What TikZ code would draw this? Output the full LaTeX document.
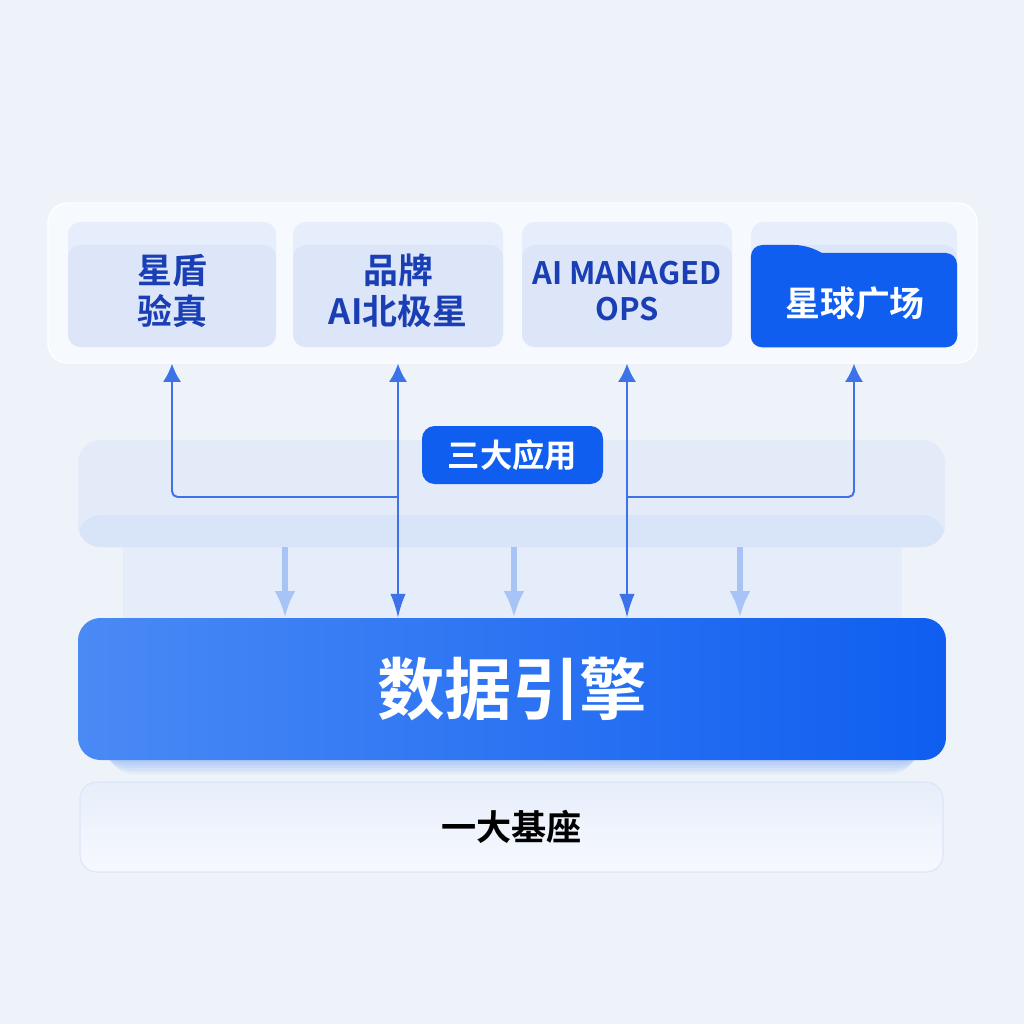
\documentclass[tikz,border=0pt]{standalone}
\usepackage{fontspec}
\setmainfont{Noto Sans CJK SC}[BoldFont={Noto Sans CJK SC Bold}]
\usepackage{xcolor}
\usetikzlibrary{arrows.meta,calc}

\definecolor{bgcol}{HTML}{EEF3FA}
\definecolor{panelcol}{HTML}{F6F9FE}
\definecolor{cardhi}{HTML}{E7EEFB}
\definecolor{cardlo}{HTML}{DCE6F8}
\definecolor{bandhi}{HTML}{E3EBF9}
\definecolor{bandlo}{HTML}{D8E4F8}
\definecolor{colcol}{HTML}{E5EDFA}
\definecolor{inkblue}{HTML}{1A3FB5}
\definecolor{linkcol}{HTML}{3D72E8}
\definecolor{faintcol}{HTML}{A8C3F5}
\definecolor{brightblue}{HTML}{0F5EF0}
\definecolor{engineleft}{HTML}{4A8AF5}
\def\u{0.025cm}

\tikzset{
  UpTip/.tip={Latex[length=13pt,width=13pt]},
  DnTip/.tip={Latex[length=17pt,width=11pt]},
  FaintTip/.tip={Latex[length=19pt,width=15pt]},
}

\begin{document}
\begin{tikzpicture}[x=0.025cm, y=-0.025cm, line join=round,
  card/.style={rounded corners=9pt, inner sep=0pt, fill=cardhi,
    minimum height={125*\u},
    path picture={\fill[cardlo] ([yshift={-23*\u}]path picture bounding box.north west)
      rectangle (path picture bounding box.south east);}},
  cardtext/.style={align=center, text=inkblue, inner sep=0pt,
    font=\fontsize{24.8}{29.5}\selectfont\bfseries},
  link/.style={draw=linkcol, line width=1.4pt},
  faint/.style={draw=faintcol, line width=4.2pt, -FaintTip},
]
% background
\fill[bgcol] (0,0) rectangle (1024,1024);
\useasboundingbox (0,0) rectangle (1024,1024);

% column behind the arrows
\fill[colcol] (123,540) rectangle (902,625);

% top panel with the four cards
\node[fill=panelcol, draw=white, line width=1pt, rounded corners=14pt,
  minimum width={929*\u}, minimum height={160*\u}] (panel) at (512.5,283) {};
\node[card, minimum width={208*\u}] (c1) at (172,284.5) {};
\node[card, minimum width={210*\u}] (c2) at (398,284.5) {};
\node[card, minimum width={210*\u}] (c3) at (627,284.5) {};
\node[card, minimum width={206*\u}] (c4) at (854,284.5) {};
% folder tab on the fourth card
\fill[brightblue, rounded corners=8pt] (c4.south west) -- (751,245) -- (806,245)
  [sharp corners] -- (822,253) [rounded corners=8pt] -- (957,253) -- (c4.south east) -- cycle;

\node[cardtext] (t1) at ([yshift=-4.5pt]c1.center) {星盾\\验真};
\node[cardtext] (t2) at ([yshift=-4.5pt]c2.center) {品牌\\AI北极星};
\node[cardtext, font=\fontsize{22}{25.5}\selectfont\bfseries]
  (t3) at ([yshift=-4.5pt]c3.center) {AI MANAGED\\OPS};
\node[cardtext, text=white] (t4) at (855,303) {星球广场};

% middle band
\node[fill=bandhi, rounded corners=16pt, minimum width={867*\u}, minimum height={107*\u},
  path picture={\fill[bandlo] ([yshift={-75*\u}]path picture bounding box.north west)
    rectangle (path picture bounding box.south east);}]
  (band) at (511.5,493.5) {};

% glow under the engine
\foreach \g in {0,3,6,9,12}
  \fill[brightblue, opacity=0.06, rounded corners=18pt] (96+\g,700) rectangle (928-\g,762+\g);

% data engine
\node[rounded corners=16pt, left color=engineleft, right color=brightblue,
  minimum width={868*\u}, minimum height={142*\u}, text=white,
  font=\fontsize{48}{56}\selectfont\bfseries]
  (engine) at (512,689) {数据引擎};

% base
\node[rounded corners=12pt, top color=cardhi, bottom color=panelcol, draw=cardlo,
  line width=0.8pt, minimum width={863*\u}, minimum height={90*\u},
  font=\fontsize{25}{30}\selectfont\bfseries]
  (base) at (511.5,827) {一大基座};

% faint arrows into the engine
\foreach \x [count=\i] in {285,514,740} {
  \coordinate (f\i) at (\x,0);
  \draw[faint] (f\i |- band.south) -- (f\i |- engine.north);
}

% connectors
\coordinate (hy) at (0,497);
\draw[link, UpTip-DnTip] (c2.south |- panel.south) -- (c2.south |- engine.north);
\draw[link, UpTip-DnTip] (c3.south |- panel.south) -- (c3.south |- engine.north);
\draw[link, -UpTip, rounded corners=4pt] (c2 |- hy) -| (c1.south |- panel.south);
\draw[link, -UpTip, rounded corners=4pt] (c3 |- hy) -| (c4.south |- panel.south);

% label on the band
\node[fill=brightblue, rounded corners=9pt, minimum width={181*\u}, minimum height={58*\u},
  text=white, font=\fontsize{23}{28}\selectfont\bfseries] (apps) at (512.5,455) {三大应用};
\end{tikzpicture}
\end{document}
